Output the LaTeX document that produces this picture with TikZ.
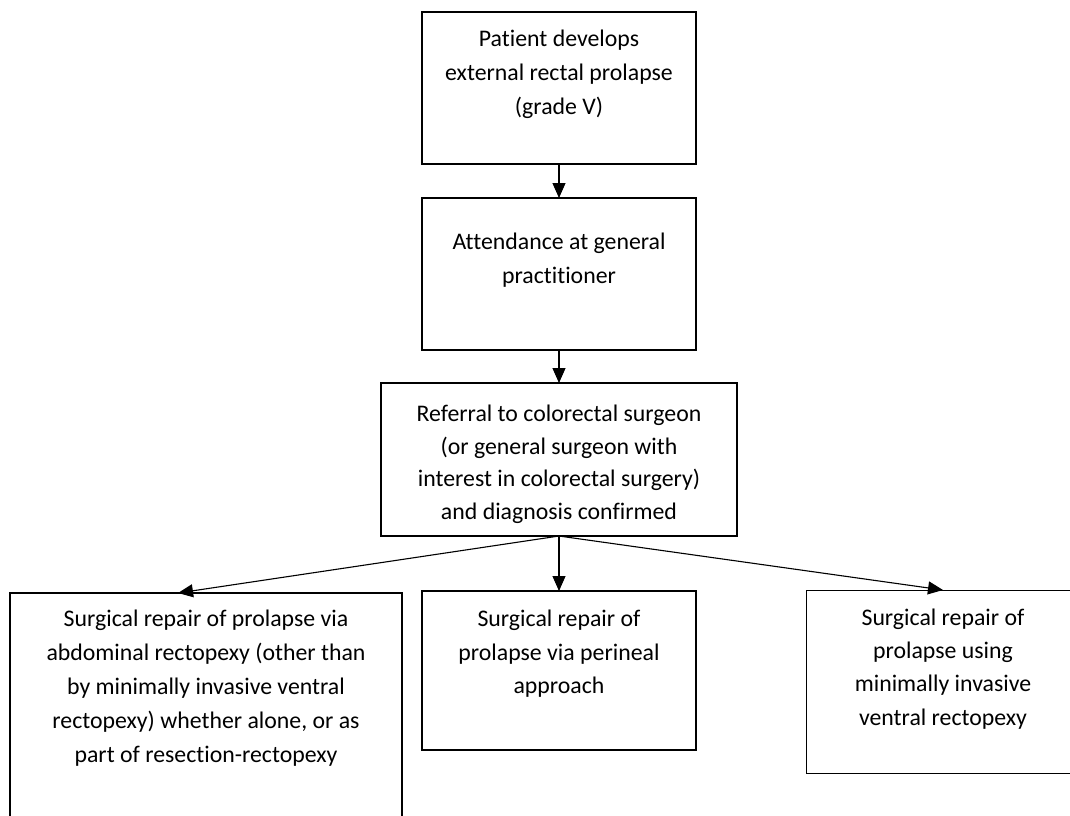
\documentclass[tikz,border=0pt]{standalone}
\usepackage{fontspec}
\setmainfont{Carlito}[Ligatures=NoCommon]
\usetikzlibrary{arrows.meta,calc}
\begin{document}
\begin{tikzpicture}[x=1pt,y=-1pt,
  boxthick/.style={draw=black,line width=2pt,rectangle,inner sep=0pt,outer sep=0pt},
  boxthin/.style={draw=black,line width=1pt,rectangle,inner sep=0pt,outer sep=0pt},
  txt/.style={font=\fontsize{23.8}{34}\selectfont,align=center,inner sep=0pt,anchor=north},
  arr/.style={line width=1.1pt,-{Triangle[length=15pt,width=13pt]}}]
\useasboundingbox (0,0) rectangle (1070,815);
\clip (0,0) rectangle (1070,815);
% boxes
\node[boxthick,minimum width=274pt,minimum height=152pt] (b1) at (559,88) {};
\node[boxthick,minimum width=274pt,minimum height=152pt] (b2) at (559,274) {};
\node[boxthick,minimum width=356pt,minimum height=153pt] (b3) at (559,459.5) {};
\node[boxthick,minimum width=392pt,minimum height=240pt] (b4) at (206,713) {};
\node[boxthick,minimum width=274pt,minimum height=159pt] (b5) at (559,670.5) {};
\node[boxthin,minimum width=274pt,minimum height=183pt] (b6) at (943,681.5) {};
% texts
\node[txt] (t1) at (559,22.9) {\strut Patient develops\\external rectal prolapse\\(grade V)};
\node[txt] (t2) at (559,225.5) {\strut Attendance at general\\practitioner};
\node[txt,font=\fontsize{23.8}{32.5}\selectfont] (t3) at (559,399) {\strut Referral to colorectal surgeon\\(or general surgeon with\\interest in colorectal surgery)\\and diagnosis confirmed};
\node[txt] (t4) at (206,602.9) {\strut Surgical repair of prolapse via\\abdominal rectopexy (other than\\by minimally invasive ventral\\rectopexy) whether alone, or as\\part of resection-rectopexy};
\node[txt,font=\fontsize{23.8}{33.3}\selectfont] (t5) at (559,603.4) {\strut Surgical repair of\\prolapse via perineal\\approach};
\node[txt,font=\fontsize{23.8}{33.3}\selectfont] (t6) at (943,601.7) {\strut Surgical repair of\\prolapse using\\minimally invasive\\ventral rectopexy};
% connectors
\draw[arr] (b1.south) -- (b2.north);
\draw[arr] (b2.south) -- (b3.north);
\draw[arr] (b3.south) -- ($(b4.north west)!0.4286!(b4.north east)$);
\draw[arr] (b3.south) -- (b5.north);
\draw[arr] (b3.south) -- (b6.north);
\end{tikzpicture}
\end{document}
